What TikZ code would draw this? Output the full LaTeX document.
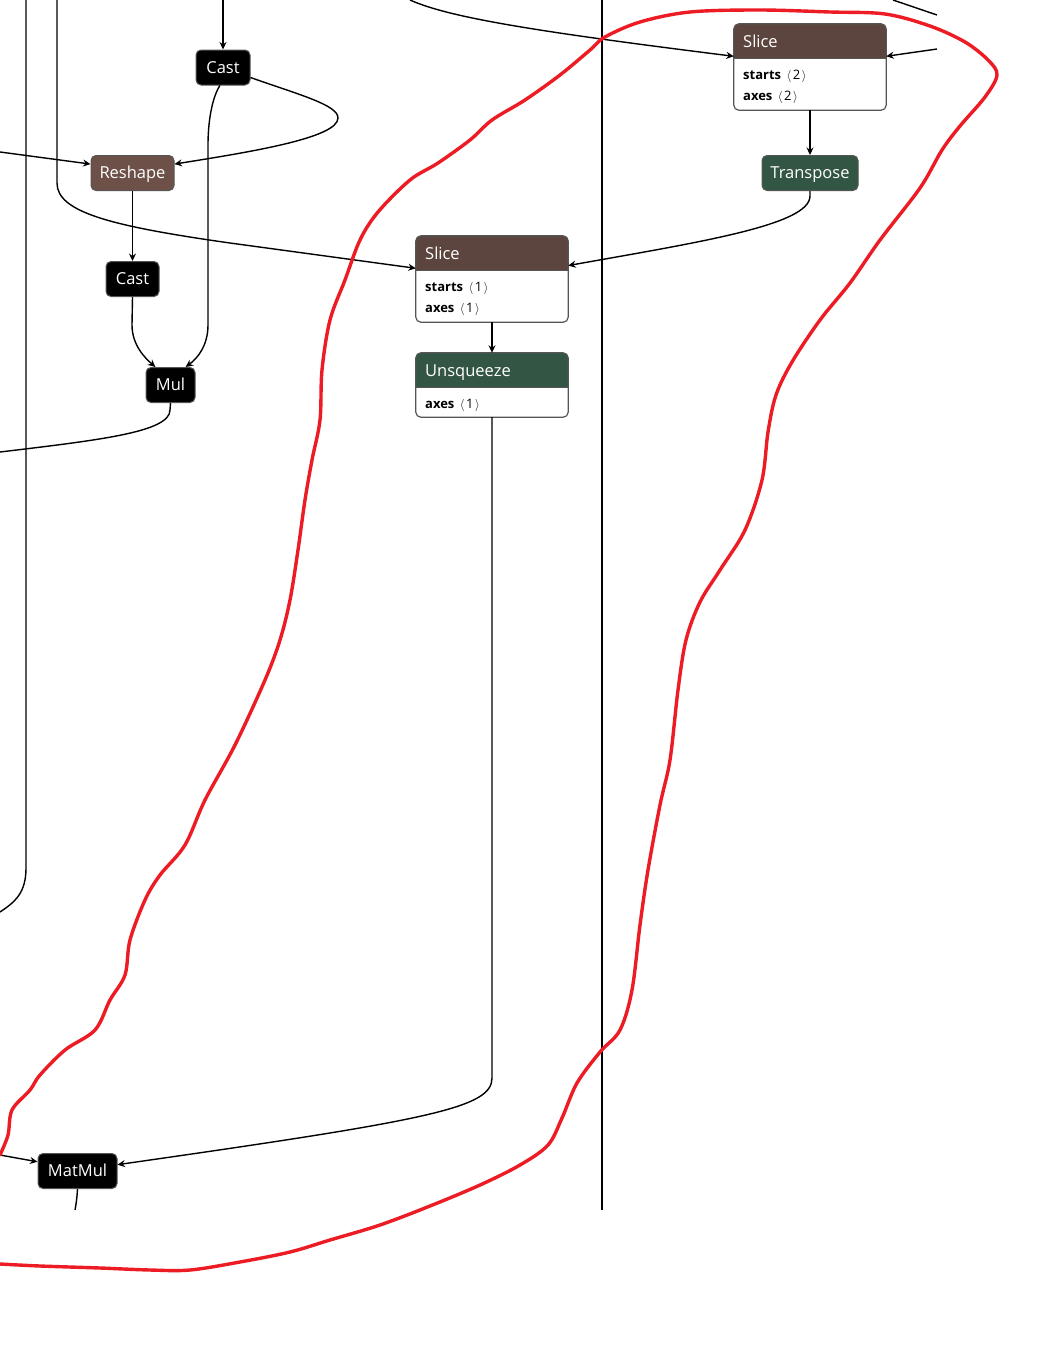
\documentclass[tikz,border=0pt]{standalone}
\usepackage{fontspec}
\setmainfont{Open Sans}
\usetikzlibrary{arrows.meta,calc}
\definecolor{hdrbrown}{HTML}{5B453E}
\definecolor{reshapebrown}{HTML}{6D5048}
\definecolor{opgreen}{HTML}{335544}
\definecolor{penred}{HTML}{ED1C24}
\definecolor{bordergray}{HTML}{555555}
\newcommand{\attrval}[1]{\hspace{0.42em}$\langle$\hspace{0.12em}#1\hspace{0.12em}$\rangle$}
\tikzset{
  opnode/.style={draw=bordergray, line width=1pt, rounded corners=5pt, fill=black, text=white,
    minimum height=35pt, inner sep=0pt, text height=11.8pt, text depth=0pt,
    font=\fontsize{16.5}{19}\selectfont},
  boxbody/.style={fill=white, minimum width=152pt, inner sep=0pt},
  boxborder/.style={draw=bordergray, line width=1.2pt, rounded corners=5pt},
  hdrtext/.style={anchor=west, text=white, inner sep=0pt, text height=11.8pt, text depth=0pt,
    font=\fontsize{16.5}{19}\selectfont},
  attrtext/.style={anchor=west, text=black, inner sep=0pt, text height=9.3pt, text depth=0pt,
    font=\fontsize{13}{15}\selectfont},
  edge/.style={line width=1.4pt, draw=black},
  arr/.style={edge, -{Stealth[length=7.5pt,width=7pt,inset=2.5pt]}},
  pen/.style={draw=penred, line width=3.4pt, line cap=round, line join=round}
}
\begin{document}
\begin{tikzpicture}[x=1pt,y=-1pt]
\useasboundingbox (0,0) rectangle (1054,1358);
\fill[white] (0,0) rectangle (1054,1358);

% free-end coordinates
\coordinate (t26) at (26,0);
\coordinate (l912) at (0,912);
\coordinate (t57) at (57,0);
\coordinate (t223) at (223,0);
\coordinate (l152) at (0,152);
\coordinate (l452) at (0,452);
\coordinate (t410) at (410,0);
\coordinate (r49) at (937,49);
\coordinate (t893) at (893,0);
\coordinate (r15) at (937,15);
\coordinate (l1155) at (0,1155);
\coordinate (b75) at (75,1210);
\coordinate (t602) at (602,0);
\coordinate (b602) at (602,1210);

% plain op nodes
\node[opnode, minimum width=54pt] (cast1) at (223,67.5) {Cast};
\node[opnode, minimum width=83pt, fill=reshapebrown] (reshape) at (132.5,173) {Reshape};
\node[opnode, minimum width=53pt] (cast2) at (132.5,279) {Cast};
\node[opnode, minimum width=49pt] (mul) at (170.5,385) {Mul};
\node[opnode, minimum width=96pt, fill=opgreen] (transpose) at (810,173) {Transpose};
\node[opnode, minimum width=79pt] (matmul) at (77.5,1171) {MatMul};

% Slice (top right)
\node[boxbody, minimum height=86pt] (sa) at (810,67) {};
\begin{scope}
\clip[rounded corners=5pt] (sa.north west) rectangle (sa.south east);
\fill[hdrbrown] (sa.north west) rectangle ($(sa.north east)+(0,35)$);
\end{scope}
\draw[boxborder] (sa.north west) rectangle (sa.south east);
\draw[draw=bordergray, line width=1pt] ($(sa.north west)+(0,35)$) -- ($(sa.north east)+(0,35)$);
\node[hdrtext] (saT) at (743,42) {Slice};
\node[attrtext] (saA) at (743,75) {\textbf{starts}\attrval{2}};
\node[attrtext] (saB) at (743,96) {\textbf{axes}\attrval{2}};

% Slice (middle)
\node[boxbody, minimum height=86pt] (sb) at (492,279) {};
\begin{scope}
\clip[rounded corners=5pt] (sb.north west) rectangle (sb.south east);
\fill[hdrbrown] (sb.north west) rectangle ($(sb.north east)+(0,35)$);
\end{scope}
\draw[boxborder] (sb.north west) rectangle (sb.south east);
\draw[draw=bordergray, line width=1pt] ($(sb.north west)+(0,35)$) -- ($(sb.north east)+(0,35)$);
\node[hdrtext] (sbT) at (425,254) {Slice};
\node[attrtext] (sbA) at (425,287) {\textbf{starts}\attrval{1}};
\node[attrtext] (sbB) at (425,308) {\textbf{axes}\attrval{1}};

% Unsqueeze
\node[boxbody, minimum height=64pt] (us) at (492,385) {};
\begin{scope}
\clip[rounded corners=5pt] (us.north west) rectangle (us.south east);
\fill[opgreen] (us.north west) rectangle ($(us.north east)+(0,35)$);
\end{scope}
\draw[boxborder] (us.north west) rectangle (us.south east);
\draw[draw=bordergray, line width=1pt] ($(us.north west)+(0,35)$) -- ($(us.north east)+(0,35)$);
\node[hdrtext] (usT) at (425,371) {Unsqueeze};
\node[attrtext] (usA) at (425,404) {\textbf{axes}\attrval{1}};

% connectors
\draw[edge] (t26) -- (26,868) .. controls (26,893) and (15,902) .. (l912);
\draw[arr] (t57) -- (57,183) .. controls (57,212) and (110,226) .. (230,243) -- (sb.172);
\draw[arr] (t223) -- (cast1.north);
\draw[arr] (cast1.-20) .. controls (300,95) and (338,105) .. (338,118) .. controls (338,138) and (250,152) .. (reshape.12);
\draw[arr] (cast1.-100) .. controls (211,100) and (208,125) .. (208,145) -- (208,325) .. controls (208,345) and (198,358) .. (mul.50);
\draw[arr] (l152) -- (reshape.168);
\draw[arr] (reshape.south) -- (cast2.north);
\draw[arr] (cast2.south) -- (132,325) .. controls (132,345) and (145,358) .. (mul.130);
\draw[edge] (mul.south) -- (170,410) .. controls (170,432) and (100,440) .. (l452);
\draw[arr] (t410) .. controls (450,18) and (540,32) .. (sa.172);
\draw[arr] (r49) -- (sa.8);
\draw[edge] (t893) -- (r15);
\draw[arr] (sa.south) -- (transpose.north);
\draw[arr] (transpose.south) -- (810,196) .. controls (810,225) and (700,242) .. (sb.10);
\draw[arr] (sb.south) -- (us.north);
\draw[arr] (us.south) -- (492,1078) .. controls (492,1108) and (430,1120) .. (matmul.9);
\draw[arr] (l1155) -- (matmul.167);
\draw[edge] (matmul.south) .. controls (77,1198) and (76,1205) .. (b75);
\draw[edge] (t602) -- (b602);

% red freehand loop
\draw[pen] plot[smooth, tension=0.55] coordinates {
(0,1155) (8,1135) (12,1110) (30,1090) (40,1075) (65,1050) (95,1030) (110,1000) (125,975)
(130,940) (145,900) (160,875) (185,845) (205,800) (235,745) (265,680) (280,640) (290,600)
(298,550) (305,500) (312,460) (320,420) (322,370) (330,320) (345,280) (360,240) (378,212)
(410,180) (438,163) (470,140) (492,120) (525,100) (560,75) (590,50) (605,37)
(640,22) (690,12) (760,10) (830,12) (885,14) (930,26) (965,42) (988,60) (997,75)
(985,97) (960,126) (942,150) (920,188) (880,240) (850,283) (820,320) (792,362) (776,395)
(768,432) (762,480) (745,530) (720,570) (700,602) (686,640) (678,690) (670,760) (660,805)
(648,870) (640,925) (632,990) (620,1030) (600,1052) (577,1083) (562,1118) (548,1145)
(520,1165) (480,1185) (430,1206) (380,1225) (330,1240) (290,1252) (240,1262) (190,1270)
(150,1270) (100,1268) (40,1266) (0,1264)};
\end{tikzpicture}
\end{document}
